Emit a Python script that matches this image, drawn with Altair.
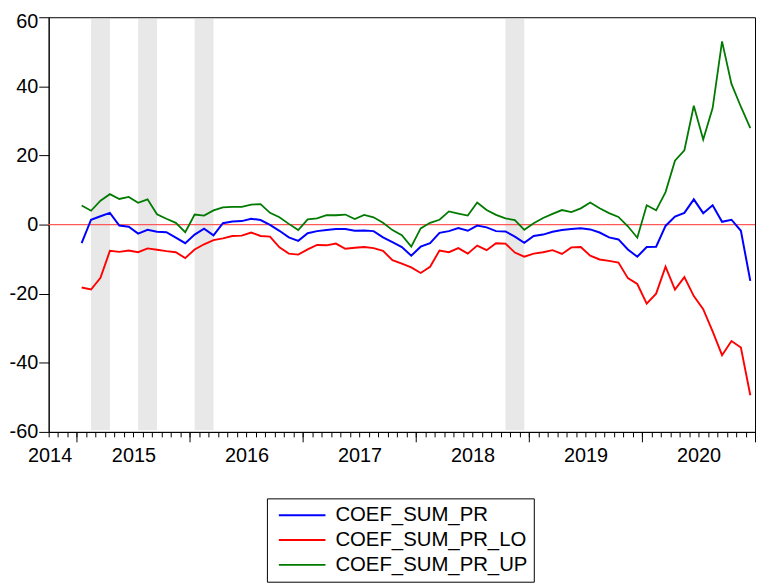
import json
import altair as alt
import pandas as pd

# ---------------- data ----------------
MONTHS = pd.period_range("2015-01", "2020-12", freq="M").strftime("%Y-%m").tolist()

COEF_SUM_PR = [
    -5.4, 1.4, 2.4, 3.4, -0.3, -0.6, -2.6, -1.5, -2.1, -2.2, -3.8, -5.4,
    -2.9, -1.2, -3.1, 0.4, 0.9, 1.0, 1.7, 1.3, -0.1, -1.8, -3.7, -4.7,
    -2.5, -1.9, -1.6, -1.3, -1.3, -1.8, -1.7, -1.9, -3.7, -5.1, -6.5, -9.0,
    -6.4, -5.4, -2.4, -1.9, -1.0, -1.8, -0.3, -0.8, -1.9, -2.0, -3.5, -5.3,
    -3.3, -2.9, -2.1, -1.6, -1.3, -1.1, -1.4, -2.3, -3.7, -4.3, -7.2, -9.3,
    -6.5, -6.4, -0.4, 2.3, 3.4, 7.3, 3.3, 5.6, 0.8, 1.4, -1.8, -16.3,
]
COEF_SUM_PR_LO = [
    -18.2, -18.8, -15.4, -7.6, -7.9, -7.5, -8.0, -6.9, -7.3, -7.7, -8.0, -9.7,
    -7.2, -5.7, -4.5, -4.0, -3.3, -3.2, -2.3, -3.3, -3.5, -6.6, -8.4, -8.7,
    -7.2, -5.9, -6.0, -5.5, -7.0, -6.7, -6.5, -6.8, -7.6, -10.3, -11.3, -12.4,
    -14.0, -12.2, -7.5, -8.0, -6.8, -8.4, -6.1, -7.4, -5.4, -5.5, -8.1, -9.3,
    -8.4, -8.0, -7.4, -8.5, -6.6, -6.5, -9.0, -10.1, -10.5, -11.0, -15.5, -17.2,
    -22.9, -20.0, -12.2, -18.8, -15.2, -20.7, -24.5, -30.9, -37.8, -33.7, -35.6, -49.4,
]
COEF_SUM_PR_UP = [
    5.5, 4.0, 6.9, 8.8, 7.4, 8.0, 6.3, 7.3, 3.0, 1.7, 0.5, -2.2,
    2.9, 2.6, 4.1, 5.0, 5.1, 5.1, 5.8, 5.9, 3.4, 2.1, 0.2, -1.6,
    1.5, 1.8, 2.7, 2.7, 2.9, 1.6, 2.8, 2.1, 0.5, -1.6, -3.1, -6.4,
    -1.1, 0.5, 1.4, 3.8, 3.2, 2.6, 6.4, 4.2, 2.8, 1.8, 1.3, -1.5,
    0.4, 1.9, 3.1, 4.2, 3.6, 4.7, 6.4, 4.7, 3.3, 2.2, -0.5, -3.8,
    5.6, 4.1, 9.4, 18.5, 21.5, 34.4, 24.6, 33.7, 53.0, 40.7, 34.1, 27.9,
]
SERIES_NAMES = ["COEF_SUM_PR", "COEF_SUM_PR_LO", "COEF_SUM_PR_UP"]
SERIES_COLORS = ["#0000FF", "#FF0000", "#007A00"]
SERIES_WIDTHS = [2.0, 1.8, 1.6]

SHADE_FROM = ["2015-02", "2015-07", "2016-01", "2018-10"]
SHADE_TO = ["2015-04", "2015-09", "2016-03", "2018-12"]

AXIS_START = "2014-10"
AXIS_END = "2021-01"
YEAR_LABELS = ["2014", "2015", "2016", "2017", "2018", "2019", "2020"]
Y_TICKS = [-60, -40, -20, 0, 20, 40, 60]


# ---------------- helpers ----------------
def month_index(m):
    p = pd.Period(m, "M")
    return (p.year - 2015) * 12 + p.month - 1


x_lo, x_hi = month_index(AXIS_START), month_index(AXIS_END)
minor_vals = list(range(x_lo, x_hi + 1))
major_vals = [month_index(f"{y}-01") for y in range(int(YEAR_LABELS[1]), int(YEAR_LABELS[-1]) + 2)]
label_pos = []
for y in YEAR_LABELS:
    a = month_index(f"{y}-01")
    b = min(month_index(f"{int(y) + 1}-01"), x_hi)
    if a < x_lo:  # partial first year: label sits near the axis start
        label_pos.append(x_lo + 0.1)
    else:
        label_pos.append((a + b) / 2)
label_expr = f"{json.dumps(YEAR_LABELS)}[indexof({json.dumps(label_pos)}, datum.value)]"

rows = []
for name, vals in zip(SERIES_NAMES, [COEF_SUM_PR, COEF_SUM_PR_LO, COEF_SUM_PR_UP]):
    for m, v in zip(MONTHS, vals):
        rows.append({"t": month_index(m) + 0.5, "value": v, "series": name})
df = pd.DataFrame(rows)

shade_df = pd.DataFrame({
    "x0": [month_index(m) + 0.5 for m in SHADE_FROM],
    "x1": [month_index(m) + 0.5 for m in SHADE_TO],
})

FONT = "Liberation Sans"
xs = alt.Scale(domain=[x_lo, x_hi], nice=False, zero=False)
ys = alt.Scale(domain=[Y_TICKS[0], Y_TICKS[-1]], nice=False, zero=False)

# plain hyphen-minus labels (as in the reference), not the wide unicode minus;
# the top label is nudged down a little so it stays inside the page
y_axis = alt.Axis(values=Y_TICKS, tickSize=10, labelPadding=1, title=None, grid=False,
                  labelExpr="'' + datum.value",
                  labelOffset={"condition": {"test": f"datum.value === {Y_TICKS[-1]}", "value": 4.5},
                               "value": 0},
                  labelFontSize=20, labelFont=FONT, labelColor="black",
                  tickColor="black", domainColor="black")

minor_axis = alt.Axis(orient="bottom", values=minor_vals, tickSize=5, labels=False,
                      title=None, grid=False, domain=True, domainColor="black",
                      tickColor="black")
major_axis = alt.Axis(orient="bottom", values=major_vals, tickSize=10, labels=False,
                      title=None, grid=False, domain=False, tickColor="black")
label_axis = alt.Axis(orient="bottom", values=label_pos, ticks=False, labelPadding=14,
                      labelExpr=label_expr, title=None, grid=False, domain=False,
                      labelFontSize=20, labelFont=FONT, labelColor="black",
                      labelFlush=False, labelOverlap=False)

shade = alt.Chart(shade_df).mark_rect(color="#E8E8E8").encode(
    x=alt.X("x0:Q", scale=xs, axis=minor_axis),
    x2="x1:Q",
    y=alt.Y(datum=-59.5, scale=ys, axis=y_axis),
    y2=alt.datum(59.5),
)

zero = alt.Chart(shade_df).mark_rule(color="#FF5A5A", strokeWidth=1).encode(
    x=alt.X(datum=x_lo, scale=xs, axis=major_axis),
    x2=alt.datum(x_hi),
    y=alt.Y(datum=0, scale=ys, axis=y_axis),
)

lines = alt.Chart(df).mark_line().encode(
    x=alt.X("t:Q", scale=xs, axis=label_axis),
    y=alt.Y("value:Q", scale=ys, axis=y_axis),
    color=alt.Color(
        "series:N",
        scale=alt.Scale(domain=SERIES_NAMES, range=SERIES_COLORS),
        sort=SERIES_NAMES,
        legend=alt.Legend(
            orient="none", legendX=220, legendY=485, title=None,
            symbolType="M-0.5,0H4.2", symbolSize=400, symbolStrokeWidth=1.8,
            labelFontSize=20.5, labelFont=FONT, labelColor="black", labelLimit=400,
            strokeColor="black", fillColor="white", padding=6,
            rowPadding=3, labelOffset=41,
        ),
    ),
    strokeWidth=alt.StrokeWidth(
        "series:N", scale=alt.Scale(domain=SERIES_NAMES, range=SERIES_WIDTHS), legend=None
    ),
    detail="series:N",
)

chart = alt.layer(shade, zero, lines).resolve_scale(x="shared", y="shared").resolve_axis(
    x="independent", y="shared"
).properties(
    width=712, height=418,
    padding={"left": 41, "top": 7, "right": 2, "bottom": 150},
    autosize=alt.AutoSizeParams(type="none"),
    background="white",
).configure_view(stroke="black", strokeWidth=1)

chart.save("out.html", embed_options={"renderer": "svg", "actions": False})
